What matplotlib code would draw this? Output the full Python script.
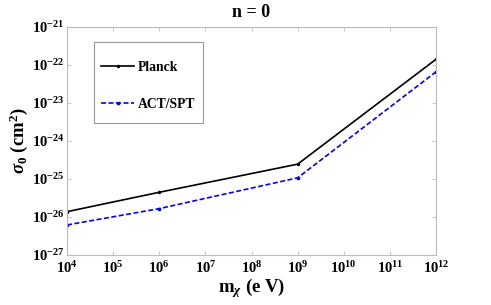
import math
import matplotlib
matplotlib.use('Agg')
from matplotlib import pyplot as plt
from matplotlib.patches import Rectangle
from matplotlib.ticker import FuncFormatter, NullLocator

plt.rcParams['font.family'] = 'Liberation Serif'
plt.rcParams['font.weight'] = 'bold'
plt.rcParams['mathtext.fontset'] = 'custom'
plt.rcParams['mathtext.rm'] = 'Liberation Serif:bold'
plt.rcParams['mathtext.bf'] = 'Liberation Serif:bold'
plt.rcParams['mathtext.it'] = 'Liberation Serif:italic:bold'

# data
mass = [1e4, 1e6, 1e9, 1e12]
planck = [10**-25.86, 10**-25.35, 10**-24.61, 10**-21.85]
actspt = [10**-26.21, 10**-25.78, 10**-24.97, 10**-22.18]
xticks = [10.0**k for k in range(4, 13)]
yticks = [10.0**k for k in range(-27, -20)]

fig = plt.figure(figsize=(4.91, 3.05), dpi=100)
ax = fig.add_axes([0.1365, 0.164, 0.7515, 0.7475])

ax.plot(mass, planck, color='black', lw=1.2, marker='.', ms=3, label='Planck')
ax.plot(mass, actspt, color='blue', lw=1.2, ls='--', dashes=(3, 1.5), marker='s', ms=1.8,
        label='ACT/SPT')

ax.set_xscale('log')
ax.set_yscale('log')
ax.set_xlim(1e4, 1e12)
ax.set_ylim(1e-27, 1e-21)

ax.set_xticks(xticks)
ax.set_yticks(yticks)
ax.xaxis.set_minor_locator(NullLocator())
ax.yaxis.set_minor_locator(NullLocator())
fmt = FuncFormatter(lambda v, p: r'$\mathbf{10^{%d}}$' % round(math.log10(v)))
ax.xaxis.set_major_formatter(fmt)
ax.yaxis.set_major_formatter(fmt)

ax.tick_params(which='major', direction='in', length=3, width=0.6, color='#bbbbbb',
               top=True, right=True, labelsize=10.5, pad=2)
ax.tick_params(axis='x', pad=4)
for s in ax.spines.values():
    s.set_color('#bbbbbb')
    s.set_linewidth(0.8)

ax.set_title('n = 0', fontsize=13, fontweight='bold', pad=7)
ax.set_xlabel(r'm$_{\chi}$ (e V)', fontsize=13.5, fontweight='bold', labelpad=0)
ax.set_ylabel(r'$\sigma_0$ (cm$^2$)', fontsize=13.5, fontweight='bold', labelpad=1)

# legend box drawn separately so its padding can match the reference
box = Rectangle((0.073, 0.579), 0.2955, 0.355, transform=ax.transAxes, fill=True,
                facecolor='white', edgecolor='#999999', lw=0.8, zorder=4)
ax.add_patch(box)
leg = ax.legend(loc='upper left', bbox_to_anchor=(0.078, 0.876), fontsize=9.8,
                labelspacing=1.8, handlelength=2.4, handletextpad=0.3,
                borderpad=0.0, borderaxespad=0.4, frameon=False)
leg.set_zorder(5)

fig.savefig('out.png', dpi=100)
